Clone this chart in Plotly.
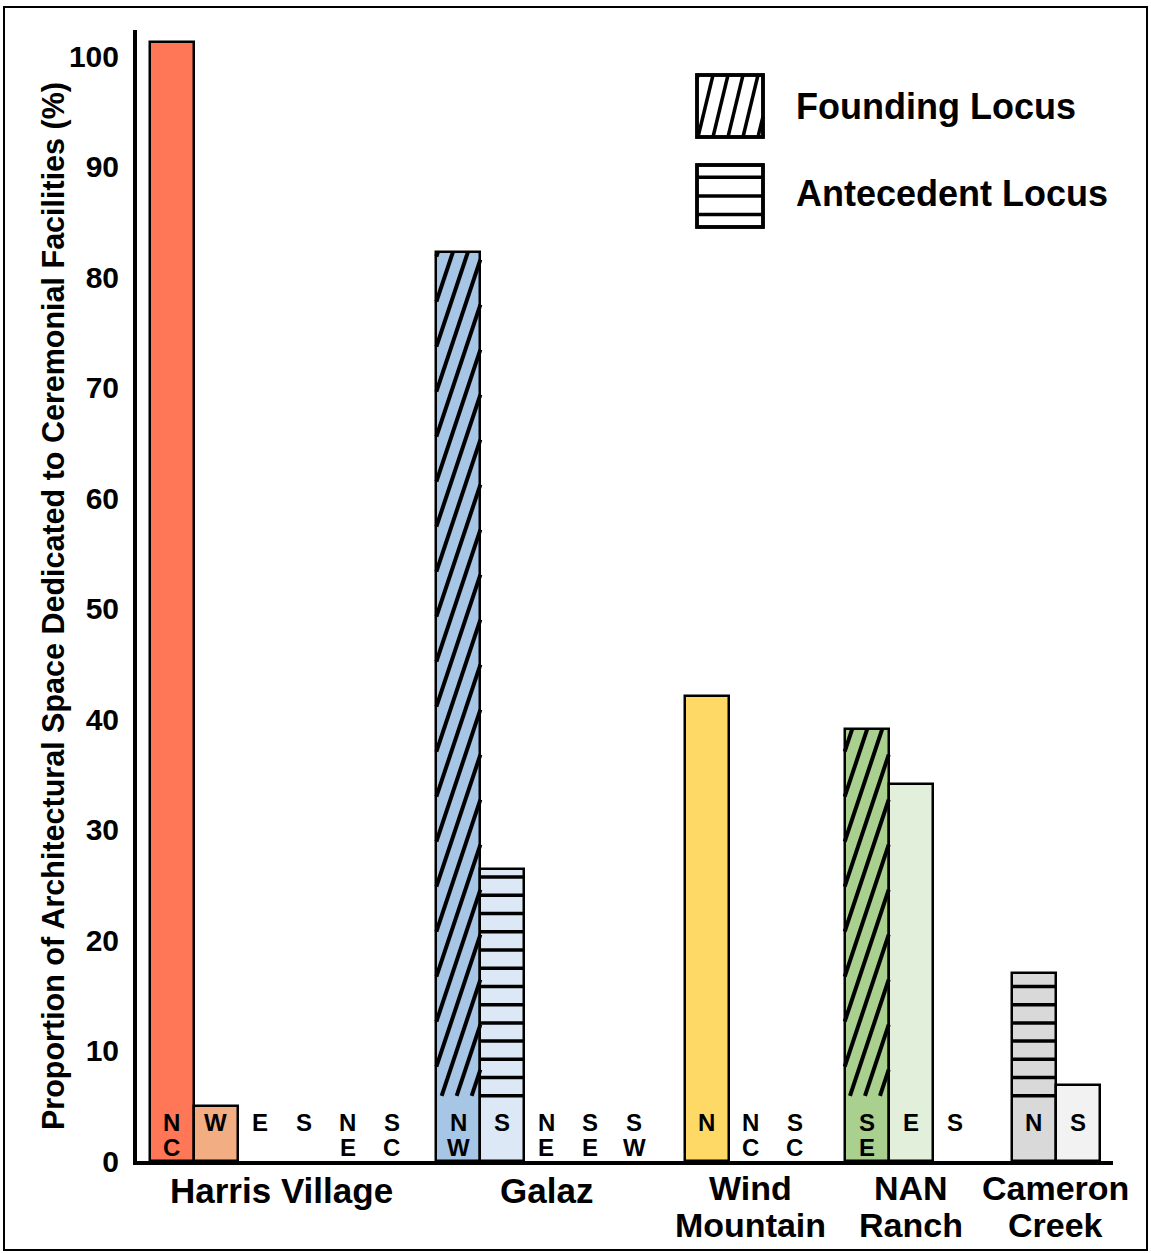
import math
import plotly.graph_objects as go

# ---- data -------------------------------------------------------------
sites = ["Harris Village", "Galaz", "Wind Mountain", "NAN Ranch", "Cameron Creek"]
site_label_lines = [["Harris Village"], ["Galaz"], ["Wind", "Mountain"],
                    ["NAN", "Ranch"], ["Cameron", "Creek"]]

harris_loci = ["NC", "W", "E", "S", "NE", "SC"]
harris_pct = [101.3, 5.0, 0, 0, 0, 0]
harris_kind = ["", "", "", "", "", ""]

galaz_loci = ["NW", "S", "NE", "SE", "SW"]
galaz_pct = [82.3, 26.4, 0, 0, 0]
galaz_kind = ["founding", "antecedent", "", "", ""]

wind_loci = ["N", "NC", "SC"]
wind_pct = [42.1, 0, 0]
wind_kind = ["", "", ""]

nan_loci = ["SE", "E", "S"]
nan_pct = [39.1, 34.1, 0]
nan_kind = ["founding", "", ""]

cameron_loci = ["N", "S"]
cameron_pct = [17.0, 6.9]
cameron_kind = ["antecedent", ""]

legend_labels = ["Founding Locus", "Antecedent Locus"]

# ---- styling / layout -------------------------------------------------
fills = {
    ("Harris Village", "NC"): "#FF7756",
    ("Harris Village", "W"): "#F3AD83",
    ("Galaz", "NW"): "#A7C6E6",
    ("Galaz", "S"): "#DCE8F5",
    ("Wind Mountain", "N"): "#FFD966",
    ("NAN Ranch", "SE"): "#A9D08E",
    ("NAN Ranch", "E"): "#E2EFDA",
    ("Cameron Creek", "N"): "#D9D9D9",
    ("Cameron Creek", "S"): "#F2F2F2",
}
group_first_slot = [0.0, 6.52, 12.16, 15.8, 19.6]

FONT = "Liberation Sans, Arial, sans-serif"
W, H = 1151, 1253
PL, PR, PT, PB = 137, 1113, 30, 1161      # plot-area edges in px
SLOT_PX = 44.0                            # one bar slot
X0_PX = 171.5                             # centre of first slot
Y_PX = 11.05                              # px per percentage point
X_RANGE = [(PL - X0_PX) / SLOT_PX, (PR - X0_PX) / SLOT_PX]
Y_RANGE = [0, (PB - PT) / Y_PX]

HATCH_FLOOR = 5.9                         # hatching starts above the locus letters
DIAG_SLOPE = 3.0 * SLOT_PX / Y_PX         # steep "/" strokes, in data units
DIAG_GAP = 15.0 / SLOT_PX
HORIZ_GAP = 1.65
LETTER_Y = [3.45, 1.19]                   # centres of first / second stacked letter


def px_to_paper(px, py):
    return (px - PL) / (PR - PL), (PB - py) / (PB - PT)


def diag_segments(xl, xr, yb, yt, slope, gap, phase=0.0):
    segs = []
    jmin = math.floor(-(yt - yb) / slope / gap) - 2
    jmax = math.ceil((xr - xl) / gap) + 2
    for j in range(jmin, jmax + 1):
        xa = xl + phase + j * gap
        y_lo = max(yb, yb + (xl - xa) * slope)
        y_hi = min(yt, yb + (xr - xa) * slope)
        if y_hi - y_lo > 1e-6:
            segs.append(((xa + (y_lo - yb) / slope, y_lo),
                         (xa + (y_hi - yb) / slope, y_hi)))
    return segs


# ---- flatten the groups ----------------------------------------------
groups = [
    (harris_loci, harris_pct, harris_kind),
    (galaz_loci, galaz_pct, galaz_kind),
    (wind_loci, wind_pct, wind_kind),
    (nan_loci, nan_pct, nan_kind),
    (cameron_loci, cameron_pct, cameron_kind),
]

bar_x, bar_y, bar_c, bar_kind = [], [], [], []
label_x, label_txt = [], []
group_centres = []
for site, start, (loci, pct, kind) in zip(sites, group_first_slot, groups):
    xs = [start + i for i in range(len(loci))]
    group_centres.append(sum(xs) / len(xs))
    for x, loc, v, k in zip(xs, loci, pct, kind):
        label_x.append(x)
        label_txt.append(loc)
        if v > 0:
            bar_x.append(x)
            bar_y.append(v)
            bar_c.append(fills[(site, loc)])
            bar_kind.append(k)

fig = go.Figure()

# solid fills
fig.add_trace(go.Bar(x=bar_x, y=bar_y, width=1.0, marker=dict(color=bar_c, line=dict(width=0)),
                     hoverinfo="skip", showlegend=False))

# hatching
diag_x, diag_y, hor_x, hor_y = [], [], [], []
for x, v, k in zip(bar_x, bar_y, bar_kind):
    if k == "founding":
        for (x1, y1), (x2, y2) in diag_segments(x - 0.5, x + 0.5, HATCH_FLOOR, v,
                                                DIAG_SLOPE, DIAG_GAP, phase=0.12):
            diag_x += [x1, x2, None]
            diag_y += [y1, y2, None]
    elif k == "antecedent":
        yy = HATCH_FLOOR
        while yy < v - 0.5:
            hor_x += [x - 0.5, x + 0.5, None]
            hor_y += [yy, yy, None]
            yy += HORIZ_GAP

fig.add_trace(go.Scatter(x=diag_x, y=diag_y, mode="lines", line=dict(color="black", width=4),
                         hoverinfo="skip", showlegend=False))
fig.add_trace(go.Scatter(x=hor_x, y=hor_y, mode="lines", line=dict(color="black", width=3.5),
                         hoverinfo="skip", showlegend=False))

# outlines on top
fig.add_trace(go.Bar(x=bar_x, y=bar_y, width=1.0,
                     marker=dict(color="rgba(0,0,0,0)", line=dict(color="black", width=2.5)),
                     hoverinfo="skip", showlegend=False))

annotations = []

# locus letters (two-letter loci are stacked)
for x, t in zip(label_x, label_txt):
    for ch, yy in zip(t, LETTER_Y):
        annotations.append(dict(x=x, y=yy, xref="x", yref="y", text=ch, showarrow=False,
                                xanchor="center", yanchor="middle",
                                font=dict(family=FONT, size=24, color="black", weight="bold")))

# site names under the axis
for cx, lines in zip(group_centres, site_label_lines):
    rows = [1190] if len(lines) == 1 else [1188, 1225]
    size = 35 if len(lines) == 1 else 34
    for line, py in zip(lines, rows):
        _, yp = px_to_paper(0, py)
        annotations.append(dict(x=cx, y=yp, xref="x", yref="paper", text=line, showarrow=False,
                                xanchor="center", yanchor="middle",
                                font=dict(family=FONT, size=size, color="black", weight="bold")))

# y-axis title
tx, ty = px_to_paper(53, 606)
annotations.append(dict(x=tx, y=ty, xref="paper", yref="paper", textangle=-90,
                        text="Proportion of Architectural Space Dedicated to Ceremonial Facilities (%)",
                        showarrow=False, xanchor="center", yanchor="middle",
                        font=dict(family=FONT, size=30.5, color="black", weight="bold")))

# legend text
for txt, py in zip(legend_labels, [106, 193]):
    lx, ly = px_to_paper(794, py)
    annotations.append(dict(x=lx, y=ly, xref="paper", yref="paper", text=txt, showarrow=False,
                            xanchor="left", yanchor="middle",
                            font=dict(family=FONT, size=36, color="black", weight="bold")))

shapes = []


def paper_rect(x0, y0, x1, y1, **kw):
    a = px_to_paper(x0, y0)
    b = px_to_paper(x1, y1)
    return dict(type="rect", xref="paper", yref="paper", x0=a[0], y0=b[1], x1=b[0], y1=a[1], **kw)


# legend swatches
for (bx0, by0, bx1, by1) in [(697, 75, 763, 137), (697, 165, 763, 227)]:
    shapes.append(paper_rect(bx0, by0, bx1, by1, fillcolor="white", line=dict(color="black", width=3.5)))

for (x1, y1), (x2, y2) in diag_segments(697, 763, -137, -75, 4.13, 15.0, phase=1.0):
    a = px_to_paper(x1, -y1)
    b = px_to_paper(x2, -y2)
    shapes.append(dict(type="line", xref="paper", yref="paper", x0=a[0], y0=a[1], x1=b[0], y1=b[1],
                       line=dict(color="black", width=3.5)))
for py in [177.3, 196, 214.5]:
    a = px_to_paper(697, py)
    b = px_to_paper(763, py)
    shapes.append(dict(type="line", xref="paper", yref="paper", x0=a[0], y0=a[1], x1=b[0], y1=b[1],
                       line=dict(color="black", width=3.5)))
# redraw swatch borders above the strokes
for (bx0, by0, bx1, by1) in [(697, 75, 763, 137), (697, 165, 763, 227)]:
    shapes.append(paper_rect(bx0, by0, bx1, by1, fillcolor="rgba(0,0,0,0)",
                             line=dict(color="black", width=3.5)))

# frame around the whole figure
shapes.append(paper_rect(4, 7, 1147, 1250, fillcolor="rgba(0,0,0,0)", line=dict(color="black", width=2)))

fig.update_layout(
    width=W, height=H,
    margin=dict(l=PL, r=W - PR, t=PT, b=H - PB, pad=0),
    paper_bgcolor="white", plot_bgcolor="white",
    barmode="overlay", bargap=0,
    showlegend=False,
    xaxis=dict(range=X_RANGE, showline=True, linecolor="black", linewidth=4,
               showticklabels=False, ticks="", showgrid=False, zeroline=False, fixedrange=True),
    yaxis=dict(range=Y_RANGE, showline=True, linecolor="black", linewidth=4,
               tickvals=list(range(0, 101, 10)), ticks="", ticklabelstandoff=8,
               tickfont=dict(family=FONT, size=30, color="black", weight="bold"),
               showgrid=False, zeroline=False, fixedrange=True),
    annotations=annotations,
    shapes=shapes,
)

fig.write_html("out.html")
